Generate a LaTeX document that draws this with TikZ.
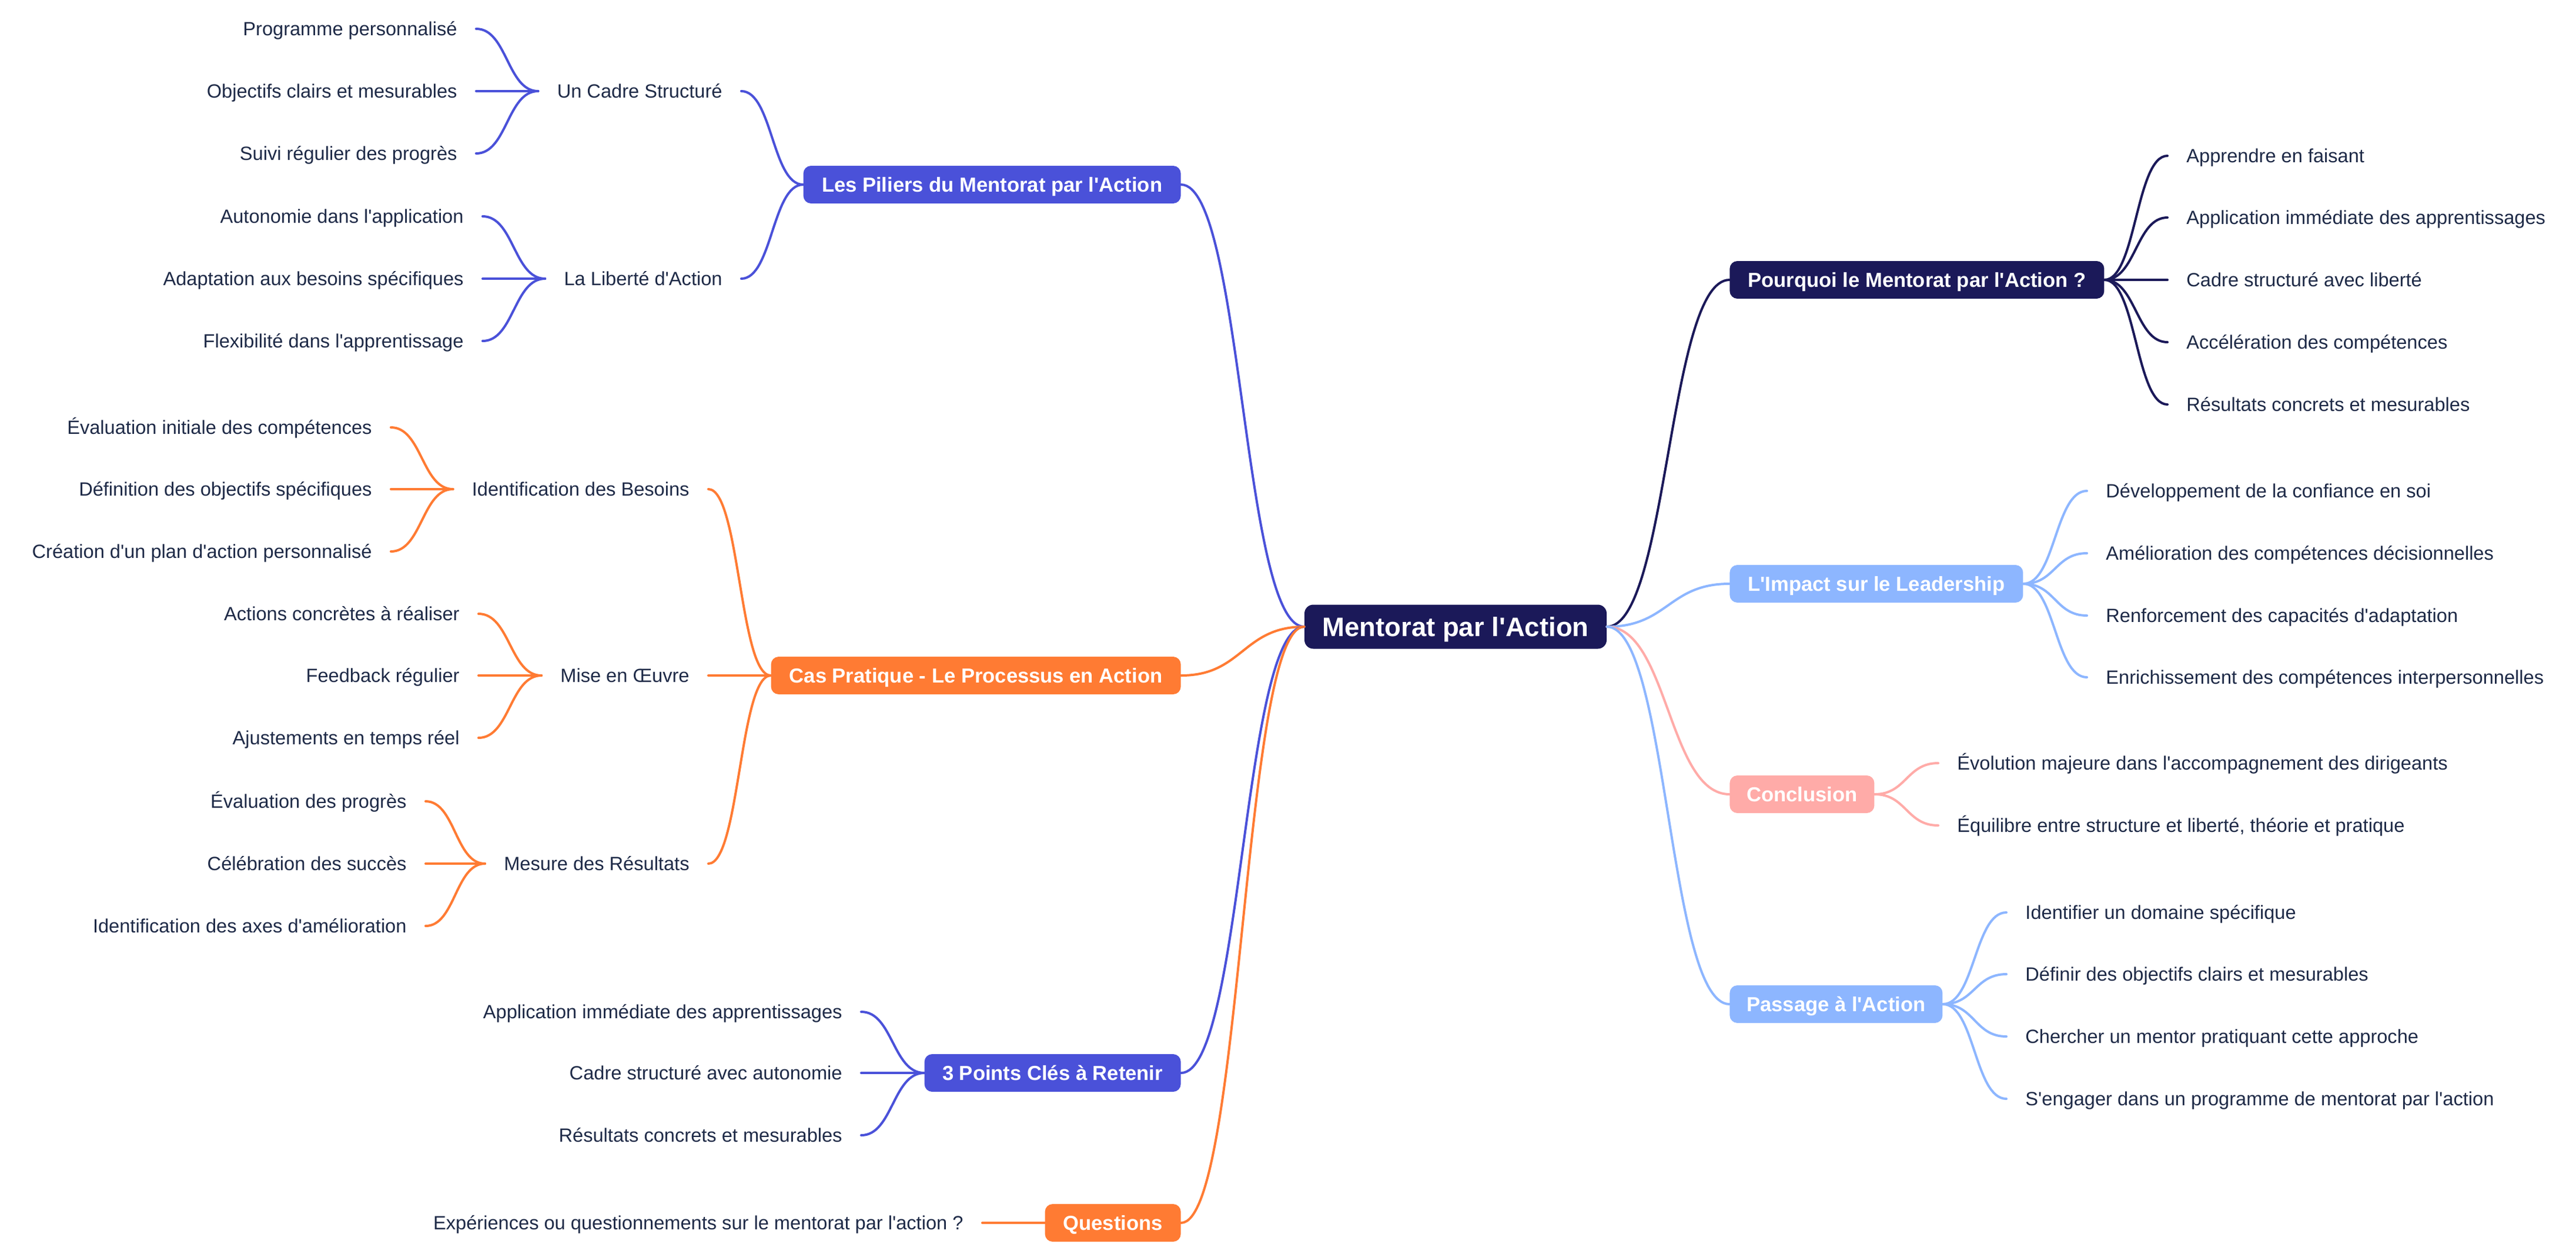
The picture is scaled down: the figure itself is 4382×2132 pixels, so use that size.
\documentclass[tikz,border=0pt]{standalone}
\usepackage{fontspec}
\setmainfont{Liberation Sans}[Ligatures=TeXOff]
\usetikzlibrary{calc}
\definecolor{navy}{HTML}{1B1959}
\definecolor{indig}{HTML}{4A51D9}
\definecolor{orng}{HTML}{FF7B33}
\definecolor{lblue}{HTML}{8DB6FF}
\definecolor{pnk}{HTML}{FFABA8}
\definecolor{txt}{HTML}{1E2A47}
\newcommand\lnk[3]{\draw[lk=#1] (#2) .. controls ($(#2)!0.5!(#2 -| #3)$) and ($(#3)!0.5!(#3 -| #2)$) .. (#3);}
\tikzset{
  leaf/.style={inner xsep=16pt, inner ysep=0pt, text height=11.67pt, text depth=0pt,
    font=\fontsize{16.3pt}{19pt}\selectfont, text=txt},
  lleaf/.style={leaf, anchor=east},
  rleaf/.style={leaf, anchor=west},
  box/.style={rounded corners=6.5pt, fill=#1, text=white, inner xsep=8pt, inner ysep=0pt,
    text height=12.39pt, text depth=0pt, minimum height=32pt,
    font=\fontsize{17.3pt}{20pt}\selectfont\bfseries},
  rootbox/.style={rounded corners=7.5pt, fill=navy, text=white, inner xsep=8pt, inner ysep=0pt,
    text height=16.29pt, text depth=0pt, minimum height=37.5pt, minimum width=257pt,
    font=\fontsize{22.75pt}{26pt}\selectfont\bfseries},
  lk/.style={draw=#1, line width=2pt, line cap=round},
}
\begin{document}
\begin{tikzpicture}[x=0.5pt,y=-0.5pt]
\useasboundingbox[fill=white] (0,0) rectangle (4382,2132);
% root
\node[rootbox] (root) at (2476,1066) {Mentorat par l'Action};
% level 1 left
\node[box=indig, anchor=east, minimum width=321pt] (piliers) at (2009,314) {Les Piliers du Mentorat par l'Action};
\node[box=orng, anchor=east, minimum width=348.5pt] (cas) at (2009,1149) {Cas Pratique - Le Processus en Action};
\node[box=indig, anchor=east, minimum width=218pt] (points) at (2009,1825) {3 Points Clés à Retenir};
\node[box=orng, anchor=east, minimum width=115.5pt] (quest) at (2009,2080) {Questions};
% level 1 right
\node[box=navy, anchor=west, minimum width=318.5pt] (pourquoi) at (2942,476) {Pourquoi le Mentorat par l'Action ?};
\node[box=lblue, anchor=west, minimum width=249.5pt] (impact) at (2942,993) {L'Impact sur le Leadership};
\node[box=pnk, anchor=west, minimum width=123pt] (concl) at (2942,1351) {Conclusion};
\node[box=lblue, anchor=west, minimum width=181pt] (passage) at (2942,1708) {Passage à l'Action};
% level 2 left
\node[lleaf] (cadre) at (1261,155) {Un Cadre Structuré};
\node[lleaf] (liberte) at (1261,474) {La Liberté d'Action};
\node[lleaf] (ident) at (1205,832) {Identification des Besoins};
\node[lleaf] (mise) at (1205,1149) {Mise en Œuvre};
\node[lleaf] (mesure) at (1205,1469) {Mesure des Résultats};
% leaves left
\node[lleaf] (c1) at (810,49) {Programme personnalisé};
\node[lleaf] (c2) at (810,155) {Objectifs clairs et mesurables};
\node[lleaf] (c3) at (810,261) {Suivi régulier des progrès};
\node[lleaf] (l1) at (821,368) {Autonomie dans l'application};
\node[lleaf] (l2) at (821,474) {Adaptation aux besoins spécifiques};
\node[lleaf] (l3) at (821,580) {Flexibilité dans l'apprentissage};
\node[lleaf] (i1) at (665,727) {Évaluation initiale des compétences};
\node[lleaf] (i2) at (665,832) {Définition des objectifs spécifiques};
\node[lleaf] (i3) at (665,938) {Création d'un plan d'action personnalisé};
\node[lleaf] (m1) at (814,1044) {Actions concrètes à réaliser};
\node[lleaf] (m2) at (814,1149) {Feedback régulier};
\node[lleaf] (m3) at (814,1255) {Ajustements en temps réel};
\node[lleaf] (r1) at (724,1363) {Évaluation des progrès};
\node[lleaf] (r2) at (724,1469) {Célébration des succès};
\node[lleaf] (r3) at (724,1575) {Identification des axes d'amélioration};
\node[lleaf] (p1) at (1465,1721) {Application immédiate des apprentissages};
\node[lleaf] (p2) at (1465,1825) {Cadre structuré avec autonomie};
\node[lleaf] (p3) at (1465,1931) {Résultats concrets et mesurables};
\node[lleaf] (q1) at (1671,2080) {Expériences ou questionnements sur le mentorat par l'action ?};
% leaves right
\node[rleaf] (w1) at (3687,265) {Apprendre en faisant};
\node[rleaf] (w2) at (3687,370) {Application immédiate des apprentissages};
\node[rleaf] (w3) at (3687,476) {Cadre structuré avec liberté};
\node[rleaf] (w4) at (3687,582) {Accélération des compétences};
\node[rleaf] (w5) at (3687,688) {Résultats concrets et mesurables};
\node[rleaf] (k1) at (3550,835) {Développement de la confiance en soi};
\node[rleaf] (k2) at (3550,941) {Amélioration des compétences décisionnelles};
\node[rleaf] (k3) at (3550,1047) {Renforcement des capacités d'adaptation};
\node[rleaf] (k4) at (3550,1152) {Enrichissement des compétences interpersonnelles};
\node[rleaf] (n1) at (3297,1298) {Évolution majeure dans l'accompagnement des dirigeants};
\node[rleaf] (n2) at (3297,1404) {Équilibre entre structure et liberté, théorie et pratique};
\node[rleaf] (a1) at (3413,1552) {Identifier un domaine spécifique};
\node[rleaf] (a2) at (3413,1657) {Définir des objectifs clairs et mesurables};
\node[rleaf] (a3) at (3413,1763) {Chercher un mentor pratiquant cette approche};
\node[rleaf] (a4) at (3413,1869) {S'engager dans un programme de mentorat par l'action};
% connectors root
\lnk{indig}{root.west}{piliers.east}
\lnk{orng}{root.west}{cas.east}
\lnk{indig}{root.west}{points.east}
\lnk{orng}{root.west}{quest.east}
\lnk{navy}{root.east}{pourquoi.west}
\lnk{lblue}{root.east}{impact.west}
\lnk{pnk}{root.east}{concl.west}
\lnk{lblue}{root.east}{passage.west}
% level 2
\lnk{indig}{piliers.west}{cadre.east}
\lnk{indig}{piliers.west}{liberte.east}
\lnk{orng}{cas.west}{ident.east}
\lnk{orng}{cas.west}{mise.east}
\lnk{orng}{cas.west}{mesure.east}
% leaves
\foreach \c in {c1,c2,c3}{\lnk{indig}{cadre.west}{\c.east}}
\foreach \c in {l1,l2,l3}{\lnk{indig}{liberte.west}{\c.east}}
\foreach \c in {i1,i2,i3}{\lnk{orng}{ident.west}{\c.east}}
\foreach \c in {m1,m2,m3}{\lnk{orng}{mise.west}{\c.east}}
\foreach \c in {r1,r2,r3}{\lnk{orng}{mesure.west}{\c.east}}
\foreach \c in {p1,p2,p3}{\lnk{indig}{points.west}{\c.east}}
\lnk{orng}{quest.west}{q1.east}
\foreach \c in {w1,w2,w3,w4,w5}{\lnk{navy}{pourquoi.east}{\c.west}}
\foreach \c in {k1,k2,k3,k4}{\lnk{lblue}{impact.east}{\c.west}}
\foreach \c in {n1,n2}{\lnk{pnk}{concl.east}{\c.west}}
\foreach \c in {a1,a2,a3,a4}{\lnk{lblue}{passage.east}{\c.west}}
\end{tikzpicture}
\end{document}
